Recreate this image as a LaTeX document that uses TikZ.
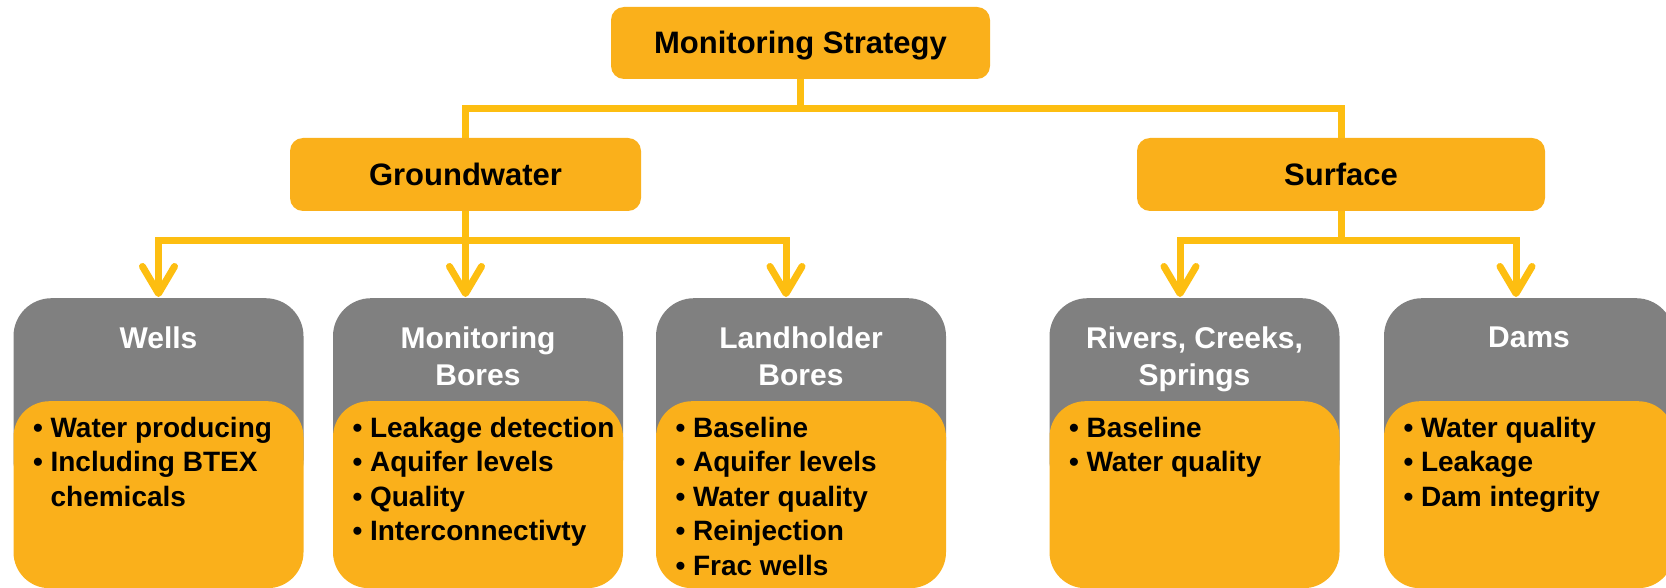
\documentclass[tikz,border=0pt]{standalone}
\usepackage{fontspec}
\setmainfont{Liberation Sans}
\usepackage{xcolor}
\usetikzlibrary{arrows.meta,positioning,calc}

\definecolor{boxorange}{RGB}{250,176,27}
\definecolor{lineyellow}{RGB}{253,190,17}
\definecolor{headgrey}{RGB}{128,128,128}

\newcommand{\titlefont}{\fontsize{31}{37}\selectfont\bfseries}
\newcommand{\headfont}{\fontsize{30}{37}\selectfont\bfseries}
\newcommand{\itemfont}{\fontsize{28}{34.5}\selectfont\bfseries}

\begin{document}
\begin{tikzpicture}[x=1pt, y=-1pt,
  topbox/.style={fill=boxorange, rounded corners=13pt, inner sep=0pt, text height=22pt, text depth=0pt, font=\titlefont},
  headbox/.style={fill=headgrey, rounded corners=38pt, minimum width=290pt, minimum height=200pt, anchor=north, inner sep=0pt},
  bodybox/.style={fill=boxorange, rounded corners=36pt, minimum width=290pt, minimum height=187pt, anchor=north, inner sep=0pt},
  headtext/.style={text=white, align=center, anchor=north, inner sep=0pt, font=\headfont},
  itemtext/.style={align=left, anchor=north west, inner sep=0pt, font=\itemfont},
  link/.style={draw=lineyellow, line width=7pt},
  arr/.style={link, -{Straight Barb[length=27pt, width=32pt, round]}}]
\useasboundingbox (0,0) rectangle (1666,588);

% top levels
\node[topbox, minimum width=379pt, minimum height=72pt] (ms) at (800.5,43) {Monitoring Strategy};
\node[topbox, minimum width=351pt, minimum height=73pt] (gw) at (465.5,174.5) {Groundwater};
\node[topbox, minimum width=408pt, minimum height=73pt] (sf) at (1341,174.5) {Surface};

% bottom boxes
\foreach \id/\cx/\head/\items in {
  wl/158.5/{Wells}/{\textbullet\ Water producing\\\textbullet\ Including BTEX\\\hphantom{\textbullet\ }chemicals},
  mb/478/{Monitoring\\Bores}/{\textbullet\ Leakage detection\\\textbullet\ Aquifer levels\\\textbullet\ Quality\\\textbullet\ Interconnectivty},
  lb/801/{Landholder\\Bores}/{\textbullet\ Baseline\\\textbullet\ Aquifer levels\\\textbullet\ Water quality\\\textbullet\ Reinjection\\\textbullet\ Frac wells},
  rv/1194.5/{Rivers, Creeks,\\Springs}/{\textbullet\ Baseline\\\textbullet\ Water quality},
  dm/1529/{Dams}/{\textbullet\ Water quality\\\textbullet\ Leakage\\\textbullet\ Dam integrity}}
{\node[headbox] (\id H) at (\cx,298) {};
 \node[bodybox] (\id B) at (\cx,401) {};
 \node[headtext] (\id T) at (\cx,326.5) {\head};
 \node[itemtext] (\id L) at ([xshift=19.5pt, yshift=-16pt]\id B.north west) {\items};}

% connectors
\draw[link] (ms.south) -- ++(0,29) -| (gw.north);
\draw[link] (ms.south) -- ++(0,29) -| (sf.north);
\draw[arr] (gw.south) -- ++(0,29) -| ([yshift=1pt]wlH.north);
\draw[arr] (gw.south) -- ([yshift=1pt]gw.south |- mbH.north);
\draw[arr] (gw.south) -- ++(0,29) -| ([xshift=-15pt, yshift=1pt]lbH.north);
\draw[arr] (sf.south) -- ++(0,29) -| ([xshift=-14.5pt, yshift=1pt]rvH.north);
\draw[arr] (sf.south) -- ++(0,29) -| ([xshift=-13pt, yshift=1pt]dmH.north);
\end{tikzpicture}
\end{document}
